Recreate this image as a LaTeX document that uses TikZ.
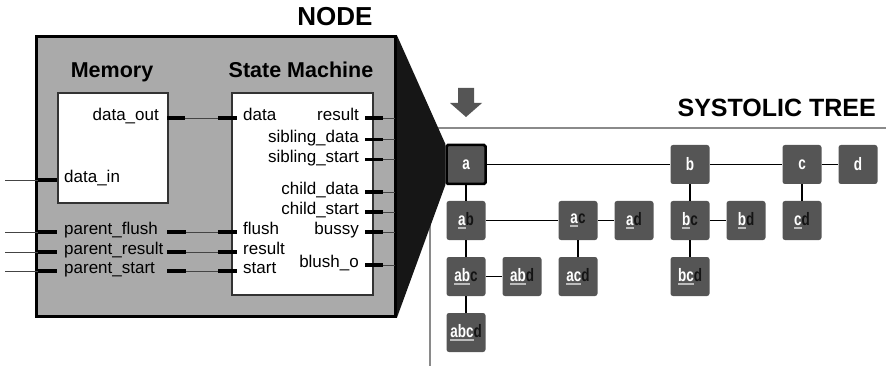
\documentclass[tikz,border=0pt]{standalone}
\usepackage{fontspec}
\setmainfont{Liberation Sans}
\definecolor{panel}{HTML}{AAAAAA}
\definecolor{cell}{HTML}{555555}
\definecolor{wedge}{HTML}{161616}
\definecolor{ulgray}{HTML}{BBBBBB}
\definecolor{lastc}{HTML}{141414}
\definecolor{axis}{HTML}{8A8A8A}
\definecolor{wirec}{HTML}{444444}
\definecolor{boxline}{HTML}{333333}
% underlined prefix of a cell label
\newcommand\pfx[1]{\setbox0\hbox{#1}\rlap{\color{ulgray}\rule[-3pt]{\wd0}{1.7pt}}\box0}
% condensed cell labels: prefix + new letter, or a single letter
\newcommand\cl[2]{\scalebox{0.75}[1]{\pfx{#1}\textcolor{lastc}{#2}}}
\newcommand\cs[1]{\scalebox{0.75}[1]{#1}}
\pgfdeclarelayer{bg}
\pgfsetlayers{bg,main}
\begin{document}
\begin{tikzpicture}[x=1pt,y=-1pt,
  port/.style={font=\fontsize{17}{20}\selectfont, inner sep=0},
  title/.style={font=\bfseries\fontsize{21.5}{24}\selectfont, inner sep=0, anchor=base},
  head/.style={font=\bfseries\fontsize{26}{28}\selectfont, inner sep=0, anchor=base},
  stub/.style={line width=3.5pt, draw=black},
  wire/.style={line width=0.9pt, draw=wirec},
  block/.style={rectangle, draw=boxline, line width=1.2pt, fill=white, inner sep=0},
  cellbox/.style={rectangle, fill=cell, rounded corners=2.5pt, minimum size=39pt,
    inner sep=0, text=white, font=\fontsize{18}{18}\selectfont\bfseries},
  link/.style={line width=1.1pt, draw=black}]
\useasboundingbox (0,0) rectangle (886,366);

% ---------- node block ----------
\node[draw=black, line width=3pt, fill=panel, minimum width=359pt, minimum height=279pt,
  inner sep=0] (nodebox) at (216,176.5) {};
\node[head] (nodetitle) at (335,26) {NODE};

\node[block, minimum width=110pt, minimum height=110pt] (mem) at (113,148) {};
\node[block, minimum width=141pt, minimum height=202pt] (sm) at (302.5,194) {};
\node[title] (memtitle) at (112,78) {Memory};
\node[title] (smtitle) at (301,78) {State Machine};

% memory ports
\node[port, anchor=mid east] (l-dout) at (159,118) {data\_out};
\node[port, anchor=mid west] (l-din) at (64,180) {data\_in};
\coordinate (dout-a) at (167,118); \coordinate (dout-b) at (185,118);
\draw[stub] (dout-a) -- (dout-b);

% outer inputs on the left
\foreach \n/\y in {din/180, pf/232, pr/252, ps/271}{
  \coordinate (\n-in) at (5,\y);
  \coordinate (\n-s0) at (38,\y);
  \coordinate (\n-s1) at (57,\y);
  \draw[wire] (\n-in) -- (\n-s0);
  \draw[stub] (\n-s0) -- (\n-s1);
}
\node[port, anchor=mid west] (l-pf) at (64,232) {parent\_flush};
\node[port, anchor=mid west] (l-pr) at (64,252) {parent\_result};
\node[port, anchor=mid west] (l-ps) at (64,271) {parent\_start};

% parent outputs feeding the state machine
\foreach \n/\y in {pf/232, pr/252, ps/271}{
  \coordinate (\n-o0) at (167,\y);
  \coordinate (\n-o1) at (186,\y);
  \draw[stub] (\n-o0) -- (\n-o1);
}

% state machine inputs
\foreach \n/\y in {sd/118, sf/232, sr/252, ss/271}{
  \coordinate (\n-s0) at (218,\y);
  \coordinate (\n-s1) at (237,\y);
  \draw[stub] (\n-s0) -- (\n-s1);
}
\draw[wire] (dout-b) -- (sd-s0);
\draw[wire] (pf-o1) -- (sf-s0);
\draw[wire] (pr-o1) -- (sr-s0);
\draw[wire] (ps-o1) -- (ss-s0);
\node[port, anchor=mid west] (l-data) at (243,118) {data};
\node[port, anchor=mid west] (l-flush) at (243,232) {flush};
\node[port, anchor=mid west] (l-result) at (243,252) {result};
\node[port, anchor=mid west] (l-start) at (243,271) {start};

% state machine outputs
\foreach \n/\y/\t in {ro/118/result, sbd/139.5/sibling\_data, sbs/159.5/sibling\_start,
    chd/192/child\_data, chs/212/child\_start, bsy/232/bussy, blo/265/blush\_o}{
  \node[port, anchor=mid east] (l-\n) at (359,\y) {\t};
  \coordinate (\n-s0) at (365,\y);
  \coordinate (\n-s1) at (383,\y);
  \coordinate (\n-e) at (395,\y);
  \draw[wire] (\n-s1) -- (\n-e);
  \draw[stub] (\n-s0) -- (\n-s1);
}

% ---------- systolic tree ----------
\node[head, anchor=base east, font=\bfseries\fontsize{25}{28}\selectfont] (treetitle)
  at (876,117) {SYSTOLIC TREE};
\coordinate (corner) at (430,128);
\coordinate (axis-r) at (886,128);
\coordinate (axis-b) at (430,366);

\node[cellbox, draw=black, line width=2.5pt, rounded corners=1.5pt] (a) at (466,164.5) {\cs{a}};
\node[cellbox] (b) at (690,164.5) {\cs{b}};
\node[cellbox] (c) at (802,164.5) {\cs{c}};
\node[cellbox] (d) at (858,164.5) {\cs{d}};
\node[cellbox] (ab) at (466,220.5) {\cl{a}{b}};
\node[cellbox] (ac) at (578,220.5) {\cl{a}{c}};
\node[cellbox] (ad) at (634,220.5) {\cl{a}{d}};
\node[cellbox] (bc) at (690,220.5) {\cl{b}{c}};
\node[cellbox] (bd) at (746,220.5) {\cl{b}{d}};
\node[cellbox] (cd) at (802,220.5) {\cl{c}{d}};
\node[cellbox] (abc) at (466,276.5) {\cl{ab}{c}};
\node[cellbox] (abd) at (522,276.5) {\cl{ab}{d}};
\node[cellbox] (acd) at (578,276.5) {\cl{ac}{d}};
\node[cellbox] (bcd) at (690,276.5) {\cl{bc}{d}};
\node[cellbox] (abcd) at (466,332.5) {\cl{abc}{d}};

\draw[link] (a) -- (b);
\draw[link] (b) -- (c);
\draw[link] (c) -- (d);
\draw[link] (a) -- (ab);
\draw[link] (b) -- (bc);
\draw[link] (c) -- (cd);
\draw[link] (ab) -- (ac);
\draw[link] (ac) -- (ad);
\draw[link] (bc) -- (bd);
\draw[link] (ab) -- (abc);
\draw[link] (ac) -- (acd);
\draw[link] (bc) -- (bcd);
\draw[link] (abc) -- (abd);
\draw[link] (abc) -- (abcd);

% drop-in arrow above the root cell
\coordinate (drop) at (466,88);
\fill[cell] ([xshift=-8pt]drop) -- ([xshift=8pt]drop) -- ([xshift=8pt,yshift=-15pt]drop)
  -- ([xshift=16pt,yshift=-15pt]drop) -- ([yshift=-29pt]drop)
  -- ([xshift=-16pt,yshift=-15pt]drop) -- ([xshift=-8pt,yshift=-15pt]drop) -- cycle;

% axes and the magnifying wedge, behind everything
\begin{pgfonlayer}{bg}
  \draw[axis, line width=1.5pt] (axis-r) -- (corner) -- (axis-b);
  \fill[wedge] (nodebox.north east) -- (a.north west) -- (a.south west)
    -- (nodebox.south east) -- cycle;
\end{pgfonlayer}
\end{tikzpicture}
\end{document}
